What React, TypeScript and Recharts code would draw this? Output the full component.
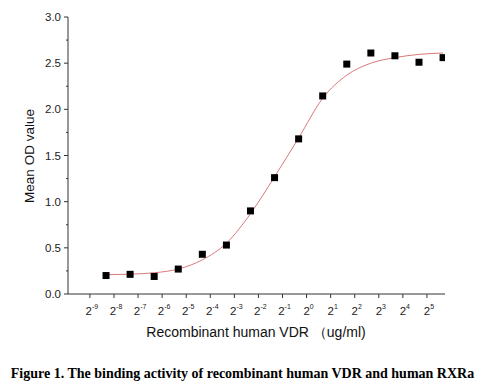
import React from 'react';
import { ComposedChart, Line, Scatter, XAxis, YAxis, Label } from 'recharts';

// log2 of concentration (ug/ml) for each dilution
const doseLog2 = [-8.33, -7.33, -6.33, -5.33, -4.33, -3.33, -2.33, -1.33, -0.33, 0.67, 1.67, 2.67, 3.67, 4.67, 5.67];
const meanOD = [0.2, 0.213, 0.19, 0.27, 0.43, 0.53, 0.9, 1.26, 1.68, 2.145, 2.49, 2.61, 2.58, 2.51, 2.56];
// fitted curve at the same doses
const fitOD = [0.21, 0.215, 0.23, 0.27, 0.37, 0.55, 0.87, 1.27, 1.69, 2.12, 2.37, 2.5, 2.56, 2.595, 2.61];

const xTicks = [-9, -8, -7, -6, -5, -4, -3, -2, -1, 0, 1, 2, 3, 4, 5];
const yTicks = [0, 0.25, 0.5, 0.75, 1, 1.25, 1.5, 1.75, 2, 2.25, 2.5, 2.75, 3];

const points = doseLog2.map((x, i) => ({ x, y: meanOD[i] }));
const curve = doseLog2.map((x, i) => ({ x, y: fitOD[i] }));

const AXIS = '#333';
const FONT = 'Liberation Sans, Arial, sans-serif';

function XTick(props: any) {
  const { x, y, payload } = props;
  return (
    <g>
      <line x1={x} y1={y} x2={x} y2={y + 4} stroke={AXIS} />
      <text x={x + 2} y={y + 21} textAnchor="middle" fontSize={11.5} fill="#222" fontFamily={FONT}>
        2<tspan dy={-6} fontSize={7}>{payload.value}</tspan>
      </text>
    </g>
  );
}

function YTick(props: any) {
  const { x, y, payload } = props;
  const major = Math.abs(payload.value * 2 - Math.round(payload.value * 2)) < 1e-6;
  return (
    <g>
      <line x1={x - (major ? 4 : 2)} y1={y} x2={x} y2={y} stroke={AXIS} />
      {major && (
        <text x={x - 7} y={y + 4} textAnchor="end" fontSize={11.5} fill="#222" fontFamily={FONT}>
          {payload.value.toFixed(1)}
        </text>
      )}
    </g>
  );
}

function Square(props: any) {
  const { cx, cy } = props;
  return <rect x={cx - 3.5} y={cy - 3.5} width={7} height={7} fill="#000" />;
}

export default function App() {
  return (
    <div style={{ position: 'absolute', left: 0, top: 0, width: 485, height: 391, background: '#fff' }}>
      <ComposedChart width={485} height={345} margin={{ top: 17, right: 40, left: 8, bottom: 0 }}>
        <XAxis
          type="number"
          dataKey="x"
          domain={[-9.91, 5.75]}
          ticks={xTicks}
          interval={0}
          allowDataOverflow
          stroke={AXIS}
          tickLine={false}
          tickSize={0}
          tickMargin={0}
          tick={<XTick />}
          height={51}
        >
          <Label
            content={() => (
              <text x={256} y={337} textAnchor="middle" fontSize={14} fill="#111" fontFamily={FONT}>
                Recombinant human VDR （ug/ml)
              </text>
            )}
          />
        </XAxis>
        <YAxis
          type="number"
          dataKey="y"
          domain={[0, 3]}
          ticks={yTicks}
          interval={0}
          stroke={AXIS}
          tickLine={false}
          tickSize={0}
          tickMargin={0}
          tick={<YTick />}
          width={60}
        >
          <Label
            content={() => (
              <text
                x={34}
                y={156}
                transform="rotate(-90 34 156)"
                textAnchor="middle"
                fontSize={13.5}
                fill="#111"
                fontFamily={FONT}
              >
                Mean OD value
              </text>
            )}
          />
        </YAxis>
        <Line
          data={curve}
          dataKey="y"
          type="monotone"
          stroke="#d9797b"
          strokeWidth={1}
          dot={false}
          isAnimationActive={false}
        />
        <Scatter data={points} dataKey="y" shape={<Square />} isAnimationActive={false} />
      </ComposedChart>
      <div
        style={{
          position: 'absolute',
          left: 0,
          top: 366,
          width: 485,
          textAlign: 'center',
          fontFamily: 'Liberation Serif, Times New Roman, serif',
          fontWeight: 'bold',
          fontSize: 14,
          color: '#000',
          whiteSpace: 'nowrap',
        }}
      >
        Figure 1. The binding activity of recombinant human VDR and human RXRa
      </div>
    </div>
  );
}
